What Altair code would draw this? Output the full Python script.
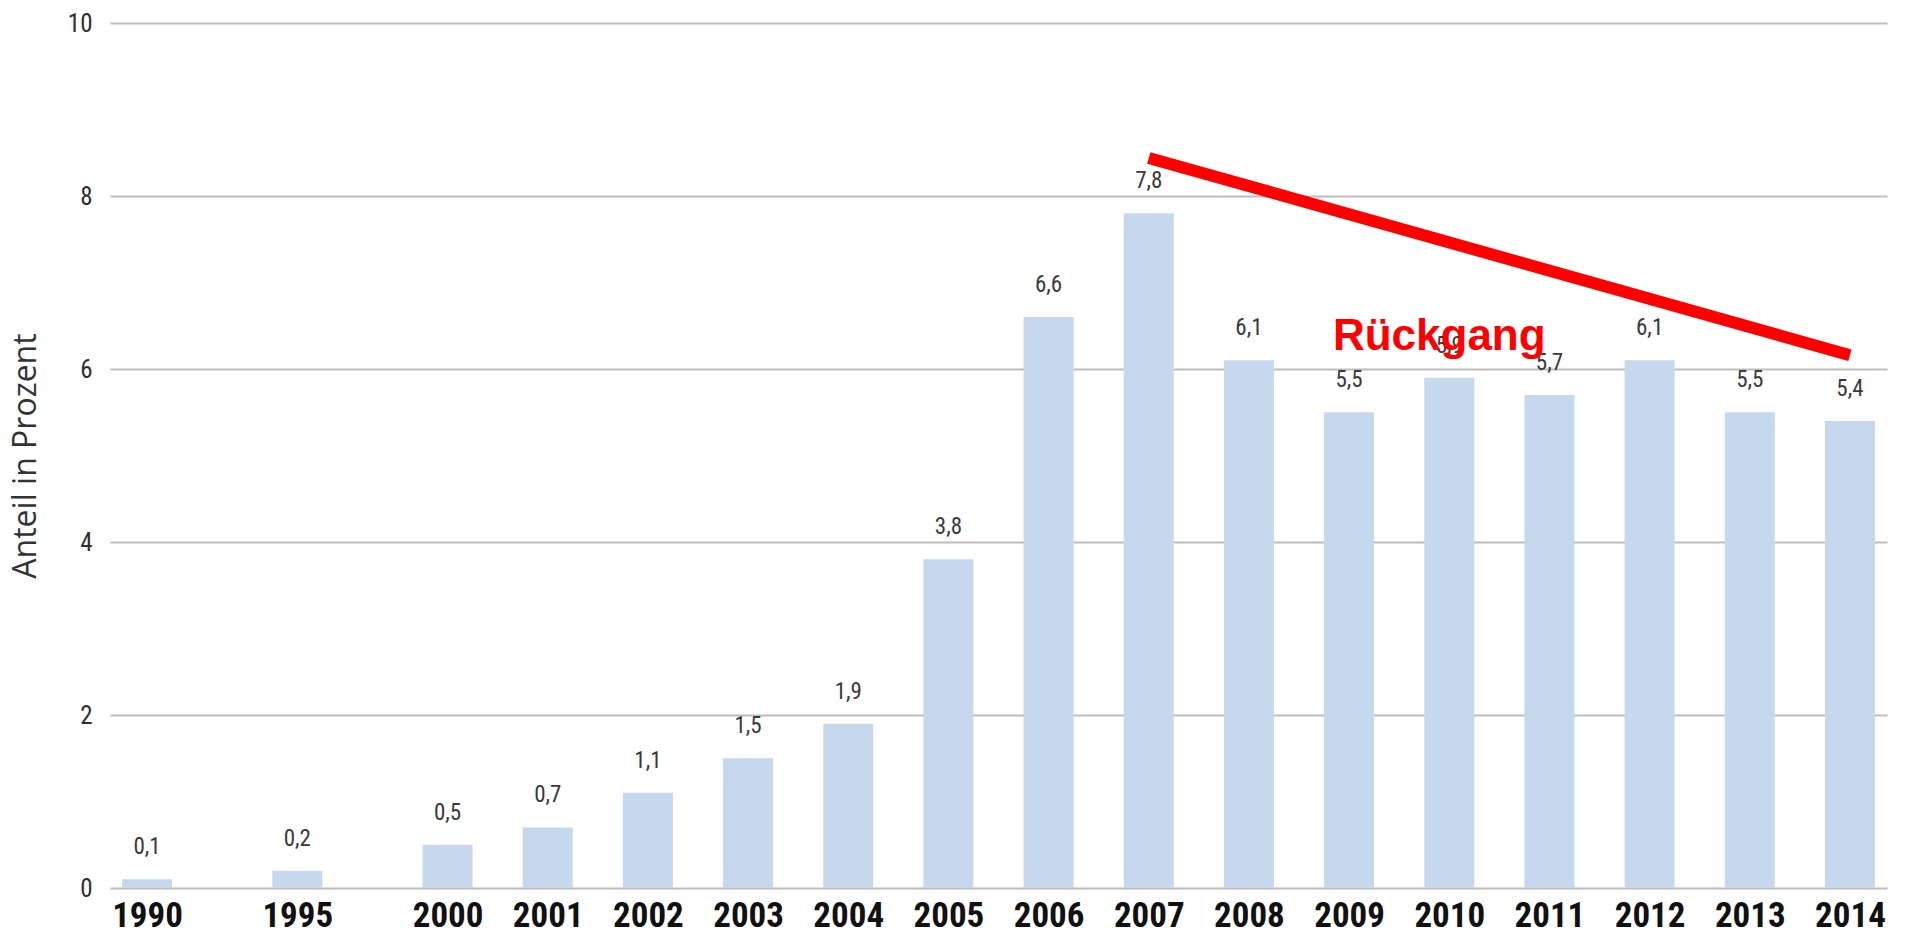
import altair as alt
import pandas as pd

# Anteil in Prozent, by year
years = [1990, 1995, 2000, 2001, 2002, 2003, 2004, 2005, 2006, 2007,
         2008, 2009, 2010, 2011, 2012, 2013, 2014]
values = [0.1, 0.2, 0.5, 0.7, 1.1, 1.5, 1.9, 3.8, 6.6, 7.8,
          6.1, 5.5, 5.9, 5.7, 6.1, 5.5, 5.4]

# Trend annotation ("Rückgang")
trend_years = [2007, 2014]
trend_values = [8.44, 6.16]
note_text = ["Rückgang"]
note_year = [2009.9]
note_value = [6.22]

y_ticks = [0, 2, 4, 6, 8, 10]

W, H = 1777, 865

# Category slots: 1990, 1995 and 2000 sit 1.5 slots apart, then one slot per year
SLOT = "datum.Jahr >= 2000 ? datum.Jahr - 1997 : (datum.Jahr - 1990) * 0.3"
slot_values = [0, 1.5] + [y - 1997 for y in years[2:]]
x_scale = alt.Scale(domain=[-0.32, 17.32], nice=False, zero=False)
y_scale = alt.Scale(domain=[0, 10], nice=False)

bars_df = pd.DataFrame({"Jahr": years, "Wert": values})
trend_df = pd.DataFrame({"Jahr": trend_years, "Wert": trend_values})
note_df = pd.DataFrame({"Jahr": note_year, "Wert": note_value, "Text": note_text})

narrow = "Liberation Sans Narrow, Roboto Condensed, Arial Narrow, sans-serif"

x_enc = alt.X(
    "Slot:Q",
    scale=x_scale,
    axis=alt.Axis(
        values=slot_values,
        labelExpr="datum.value >= 3 ? datum.value + 1997 : round(datum.value / 0.3 + 1990)",
        title=None,
        grid=False,
        domain=False,
        ticks=False,
        tickSize=0,
        labelPadding=10,
        labelFont=narrow,
        labelFontSize=35,
        labelFontWeight="bold",
        labelColor="#111111",
        labelFlush=False,
        labelOverlap=False,
    ),
)
y_enc = alt.Y(
    "Wert:Q",
    scale=y_scale,
    axis=alt.Axis(
        values=y_ticks,
        format="d",
        title="Anteil in Prozent",
        titleFont="Open Sans",
        titleFontSize=32,
        titleFontWeight="normal",
        titleColor="#333333",
        titleAngle=-90,
        titleX=-85,
        titleY=H / 2,
        titleAlign="center",
        titleBaseline="middle",
        domain=False,
        ticks=False,
        tickSize=0,
        labelPadding=18,
        labelFont=narrow,
        labelFontSize=25,
        labelColor="#2e2e2e",
        grid=True,
        gridColor="#bdbdbd",
        gridWidth=2,
    ),
)


def base(df):
    return alt.Chart(df).transform_calculate(Slot=SLOT)


bars = base(bars_df).mark_bar(size=50, color="#c6d8ee").encode(x=x_enc, y=y_enc)

labels = (
    base(bars_df)
    .transform_calculate(Label="replace(format(datum.Wert, '.1f'), '.', ',')")
    .mark_text(
        font=narrow,
        fontSize=23,
        color="#3a3a3a",
        baseline="alphabetic",
        align="center",
        dy=-25,
    )
    .encode(x="Slot:Q", y="Wert:Q", text="Label:N")
)

trend = (
    base(trend_df)
    .mark_line(color="#ff0000", strokeWidth=12, strokeCap="butt")
    .encode(x="Slot:Q", y="Wert:Q")
)

note = (
    base(note_df)
    .mark_text(
        font="Liberation Sans, Arial, sans-serif",
        fontSize=44,
        fontWeight="bold",
        color="#ff0000",
        align="center",
        baseline="alphabetic",
    )
    .encode(x="Slot:Q", y="Wert:Q", text="Text:N")
)

chart = (
    alt.layer(bars, labels, trend, note)
    .properties(
        width=W,
        height=H,
        autosize=alt.AutoSizeParams(type="none"),
        padding={"left": 110, "top": 23, "right": 21, "bottom": 48},
        background="#ffffff",
    )
    .configure_view(stroke=None)
)

chart.save("out.html", embed_options={"renderer": "svg", "actions": False})
